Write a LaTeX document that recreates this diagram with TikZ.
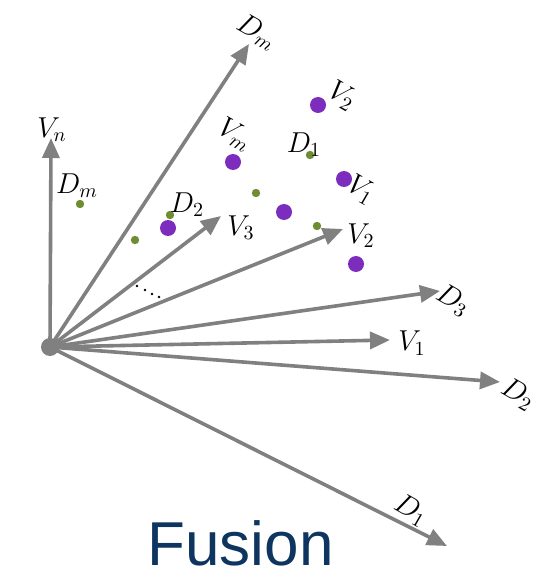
\documentclass[tikz,border=0pt]{standalone}
\usepackage{fontspec}
\newfontfamily\fusfont{Liberation Sans}
\usetikzlibrary{arrows.meta}
\definecolor{arrgray}{RGB}{128,128,128}
\definecolor{dotpurple}{RGB}{125,45,190}
\definecolor{dotgreen}{RGB}{110,140,50}
\definecolor{navy}{RGB}{14,53,96}
\tikzset{
  vec/.style={draw=arrgray, line width=1.8pt, -{Triangle[length=10pt,width=8.5pt]}},
  pdot/.style={circle, fill=dotpurple, inner sep=0pt, minimum size=8pt},
  gdot/.style={circle, fill=dotgreen, inner sep=0pt, minimum size=4.2pt},
  lab/.style={inner sep=0pt, font=\fontsize{14}{16}\selectfont},
  rlab/.style={lab, rotate=-30},
}
\begin{document}
\begin{tikzpicture}[x=0.5pt, y=-0.5pt]
\useasboundingbox (0,0) rectangle (539,572);
% origin
\node[circle, fill=arrgray, inner sep=0pt, minimum size=9pt] (O) at (50,347) {};
% tips
\coordinate (tVn) at (51,138);
\coordinate (tDm) at (249,44);
\coordinate (tV3) at (221,216);
\coordinate (tV2) at (343,229);
\coordinate (tD3) at (440,291);
\coordinate (tV1) at (390,340);
\coordinate (tD2) at (500,382);
\coordinate (tD1) at (447,546);
\foreach \t in {tVn,tDm,tV3,tV2,tD3,tV1,tD2,tD1}
  \draw[vec] (O.center) -- (\t);
% dots
\foreach \p in {(137,286),(145,290),(152,294),(159,297)}
  \fill \p circle (1.4);
% purple dots
\node[pdot] (p1) at (168,228) {};
\node[pdot] (p2) at (233,162) {};
\node[pdot] (p3) at (318,105) {};
\node[pdot] (p4) at (344,179) {};
\node[pdot] (p5) at (284,212) {};
\node[pdot] (p6) at (356,264) {};
% green dots
\node[gdot] (g1) at (80,204) {};
\node[gdot] (g2) at (135,240) {};
\node[gdot] (g3) at (170,215) {};
\node[gdot] (g4) at (256,193) {};
\node[gdot] (g5) at (310,155) {};
\node[gdot] (g6) at (317,226) {};
% upright labels
\node[lab] (lVn) at (52,130) {$V_n$};
\node[lab] (lDmL) at (77,186) {$D_m$};
\node[lab] (lD2a) at (187,205) {$D_2$};
\node[lab] (lV3) at (241,228) {$V_3$};
\node[lab] (lD1a) at (304,145) {$D_1$};
\node[lab] (lV2a) at (361,236) {$V_2$};
\node[lab] (lV1a) at (412,343) {$V_1$};
% rotated labels
\node[rlab] (lDmT) at (257,32) {$D_m$};
\node[rlab] (lVm) at (235,135) {$V_m$};
\node[rlab] (lV2b) at (342,96) {$V_2$};
\node[rlab] (lV1b) at (361,190) {$V_1$};
\node[rlab] (lD3) at (453,300) {$D_3$};
\node[rlab] (lD2b) at (518,394) {$D_2$};
\node[rlab] (lD1b) at (411,510) {$D_1$};
% title
\node[anchor=base, inner sep=0pt, text=navy, font=\fusfont\fontsize{31}{36}\selectfont] (title) at (240.5,565) {Fusion};
\end{tikzpicture}
\end{document}
